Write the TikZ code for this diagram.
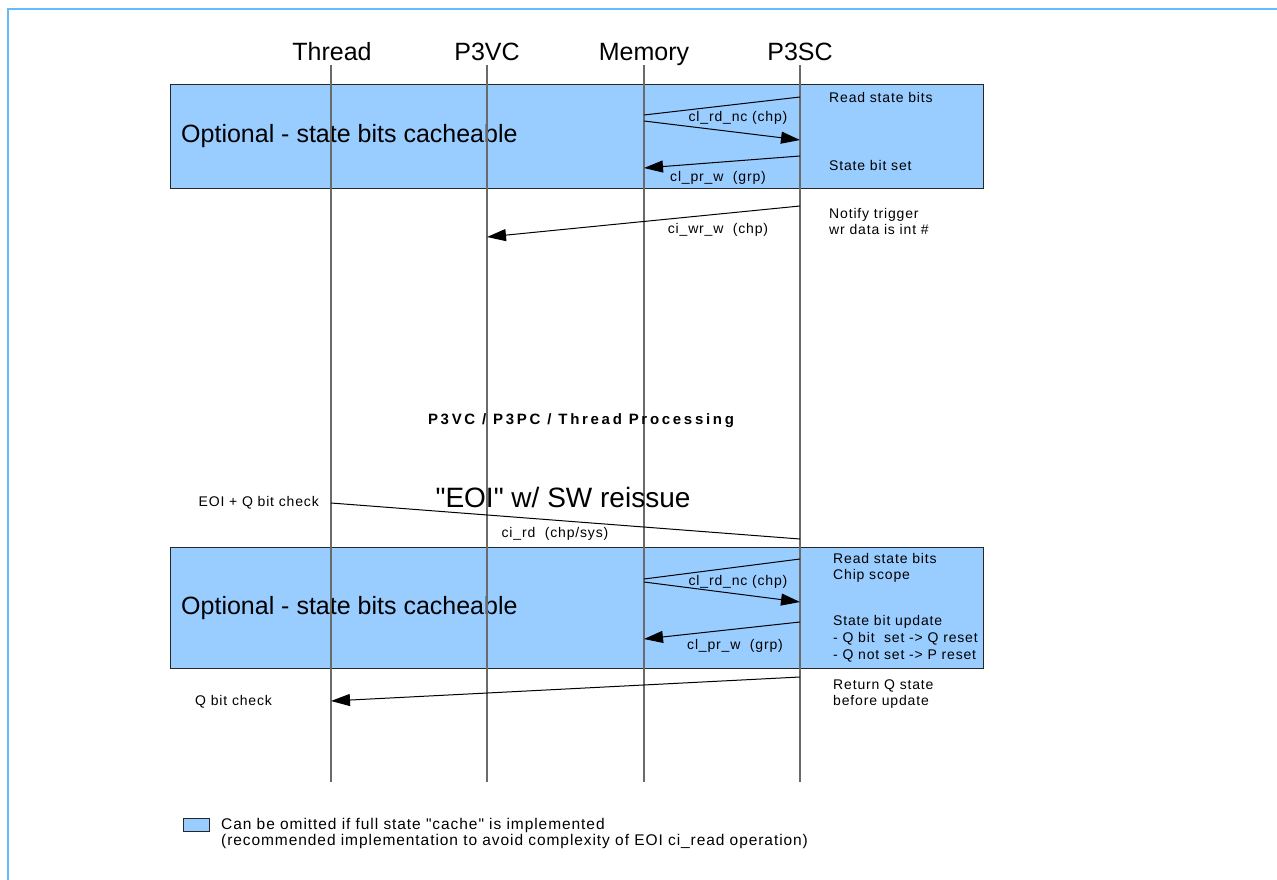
\documentclass[tikz,border=0pt]{standalone}
\usepackage{fontspec}
\setmainfont{Liberation Sans}
\newfontfamily\smallfam[LetterSpace=6]{Liberation Sans}
\newfontfamily\plainfam{Liberation Sans}
\newfontfamily\boldfam[LetterSpace=18]{Liberation Sans Bold}
\usetikzlibrary{arrows.meta}
\definecolor{boxblue}{HTML}{99CCFF}
\definecolor{frameblue}{HTML}{66BBFF}
\definecolor{lifegray}{HTML}{6A6A6A}
\begin{document}
\begin{tikzpicture}[x=1pt,y=-1pt,
 lifeline/.style={draw=lifegray, line width=1.3pt},
 msg/.style={draw=black, line width=1pt, -{Triangle[length=19pt,width=12pt]}},
 msgline/.style={draw=black, line width=1pt},
 optbox/.style={draw=black!85, fill=boxblue, line width=1.2pt, inner sep=0pt, anchor=north west},
 head/.style={font=\fontsize{25}{28}\selectfont, inner sep=0pt, anchor=base},
 big/.style={font=\fontsize{25}{28}\selectfont, inner sep=0pt, anchor=west},
 lbl/.style={font=\smallfam\fontsize{14}{16}\selectfont, inner sep=0pt},
 note/.style={font=\smallfam\fontsize{14}{16}\selectfont, inner sep=0pt, anchor=west, align=left},
]
\useasboundingbox (0,0) rectangle (1277,880);
\draw[frameblue, line width=2pt] (8,880) -- (8,9) -- (1277,9);

% optional boxes
\node[optbox, minimum width=813pt, minimum height=104pt] (box1) at (170,84) {};
\node[optbox, minimum width=813pt, minimum height=121pt] (box2) at (170,547) {};
\node[big] (opt1) at (181,136) {Optional - state bits cacheable};
\node[big] (opt2) at (181,608) {Optional - state bits cacheable};

% headers and lifelines
\node[head] (thread) at (332,61) {Thread};
\node[head] (p3vc) at (487,61) {P3VC};
\node[head] (memory) at (644,61) {Memory};
\node[head] (p3sc) at (800,61) {P3SC};
\coordinate (t0) at (331,65); \coordinate (t1) at (331,782);
\coordinate (v0) at (487,65); \coordinate (v1) at (487,782);
\coordinate (m0) at (644,65); \coordinate (m1) at (644,782);
\coordinate (s0) at (800,65); \coordinate (s1) at (800,782);
\draw[lifeline] (t0) -- (t1);
\draw[lifeline] (v0) -- (v1);
\draw[lifeline] (m0) -- (m1);
\draw[lifeline] (s0) -- (s1);

% box 1 messages
\coordinate (sA) at (800,97);  \coordinate (mA) at (644,115);
\coordinate (mB) at (644,121); \coordinate (sB) at (800,140);
\coordinate (sC) at (800,156); \coordinate (mC) at (644,168);
\draw[msgline] (sA) -- (mA);
\draw[msg] (mB) -- (sB);
\draw[msg] (sC) -- (mC);
\node[lbl] (lA) at (738,118) {cl\_rd\_nc (chp)};
\node[lbl] (lC) at (718,178) {cl\_pr\_w\ \ (grp)};
\node[note] (nA) at (829,97) {Read state bits};
\node[note] (nC) at (829,165) {State bit set};

% notify
\coordinate (sD) at (800,206); \coordinate (vD) at (487,237);
\draw[msg] (sD) -- (vD);
\node[lbl] (lD) at (718,230) {ci\_wr\_w\ \ (chp)};
\node[note] (nD) at (829,221) {Notify trigger\\wr data is int \#};

% processing
\node[font=\boldfam\fontsize{15}{17}\selectfont, inner sep=0pt] (proc) at (581,421) {P3VC / P3PC / Thread Processing};
\node[font=\plainfam\fontsize{28}{30}\selectfont, inner sep=0pt] (eoi) at (563,497) {"EOI" w/ SW reissue};

% EOI read
\coordinate (tE) at (331,503); \coordinate (sE) at (800,539);
\draw[msgline] (tE) -- (sE);
\node[lbl, anchor=east] (nE) at (319,503) {EOI + Q bit check};
\node[lbl] (lE) at (555,534) {ci\_rd\ \ (chp/sys)};

% box 2 messages
\coordinate (sF) at (800,559);  \coordinate (mF) at (644,579);
\coordinate (mG) at (644,582);  \coordinate (sG) at (800,602);
\coordinate (sH) at (800,622);  \coordinate (mH) at (644,639);
\draw[msgline] (sF) -- (mF);
\draw[msg] (mG) -- (sG);
\draw[msg] (sH) -- (mH);
\node[lbl] (lG) at (738,582) {cl\_rd\_nc (chp)};
\node[lbl] (lH) at (735,646) {cl\_pr\_w\ \ (grp)};
\node[note] (nF) at (833,567.5) {Read state bits\\Chip scope};
\node[note, font=\smallfam\fontsize{14}{17}\selectfont] (nH) at (833,639) {State bit update\\- Q bit\ \ set -> Q reset\\- Q not set -> P reset};

% return
\coordinate (sI) at (800,677); \coordinate (tI) at (331,701);
\draw[msg] (sI) -- (tI);
\node[note] (nI) at (833,694.5) {Return Q state\\before update};
\node[note] (qI) at (195,702) {Q bit check};

% legend
\node[draw=black!85, fill=boxblue, line width=1pt, minimum width=26pt, minimum height=13pt, inner sep=0pt, anchor=north west] (leg) at (183,818) {};
\node[note, font=\smallfam\fontsize{15.5}{16}\selectfont] (legtxt) at (221,833) {Can be omitted if full state "cache" is implemented\\(recommended implementation to avoid complexity of EOI ci\_read operation)};
\end{tikzpicture}
\end{document}
